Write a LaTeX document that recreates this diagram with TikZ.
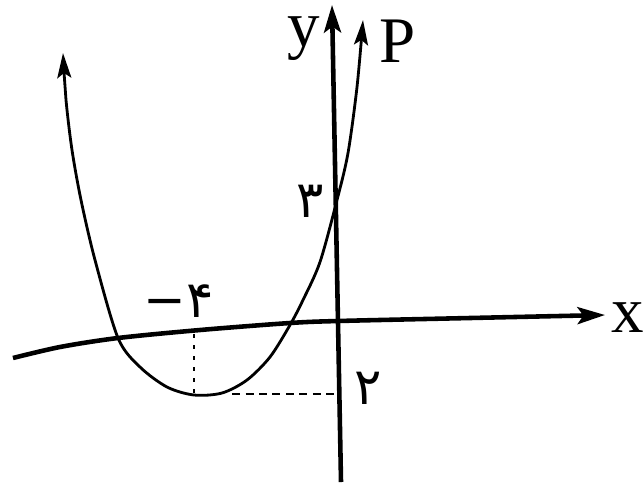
\documentclass[tikz,border=0pt]{standalone}
\usepackage{fontspec}
\setmainfont{Liberation Serif}
\newfontfamily\digitfont{DejaVu Sans}
\usepackage{tikz}
\usetikzlibrary{arrows.meta}

\begin{document}
\begin{tikzpicture}[x=0.02cm,y=-0.02cm,
  font=\fontsize{37}{42}\selectfont,
  axis/.style={line width=2.6pt,-{Stealth[length=5.5mm,width=3.4mm,inset=1.2mm]}},
  curve/.style={line width=1.6pt,{Stealth[length=5mm,width=2.8mm,inset=1mm]}-{Stealth[length=5mm,width=2.8mm,inset=1mm]}},
  digit/.style={font=\digitfont\fontsize{29}{34}\selectfont},
  every node/.style={inner sep=1pt}]
\useasboundingbox (0,0) rectangle (644,487);
% points on the axes
\coordinate (ybot) at (341,482);
\coordinate (ytop) at (332,5);
\coordinate (V) at (194,395);
\coordinate (Vx) at (194,334);
\coordinate (Vc) at (232,394);
\coordinate (Vy) at (339,394);
% x axis, bent on the left
\draw[axis] plot[smooth] coordinates {(13,358) (60,347) (118,338) (200,330) (290,323) (338,321) (470,318) (605,315)};
% y axis
\draw[axis] (ybot) -- (ytop);
% parabola P
\draw[curve] plot[smooth] coordinates {(63,53) (66,100) (72,150) (81,200) (95,260) (118,338) (140,367) (167,387) (194,395) (222,393) (247,380) (270,357) (290,325) (303,300) (320,262) (337,200) (348,153) (357,87) (363,20)};
% vertex read off on both axes
\draw[line width=1pt, dash pattern=on 0.7mm off 1.5mm] (Vx) -- (V);
\draw[line width=1pt, dash pattern=on 1.6mm off 1.1mm] (Vc) -- (Vy);
% labels
\node[anchor=base] (ylab) at (304,46) {y};
\node[anchor=base] (plab) at (398,62) {P};
\node[anchor=base] (xlab) at (628,332) {x};
\node[digit] (three) at (310,201) {۳};
\node[digit] (minusfour) at (179,301) {−۴};
\node[digit] (two) at (368,388) {۲};
\end{tikzpicture}
\end{document}
